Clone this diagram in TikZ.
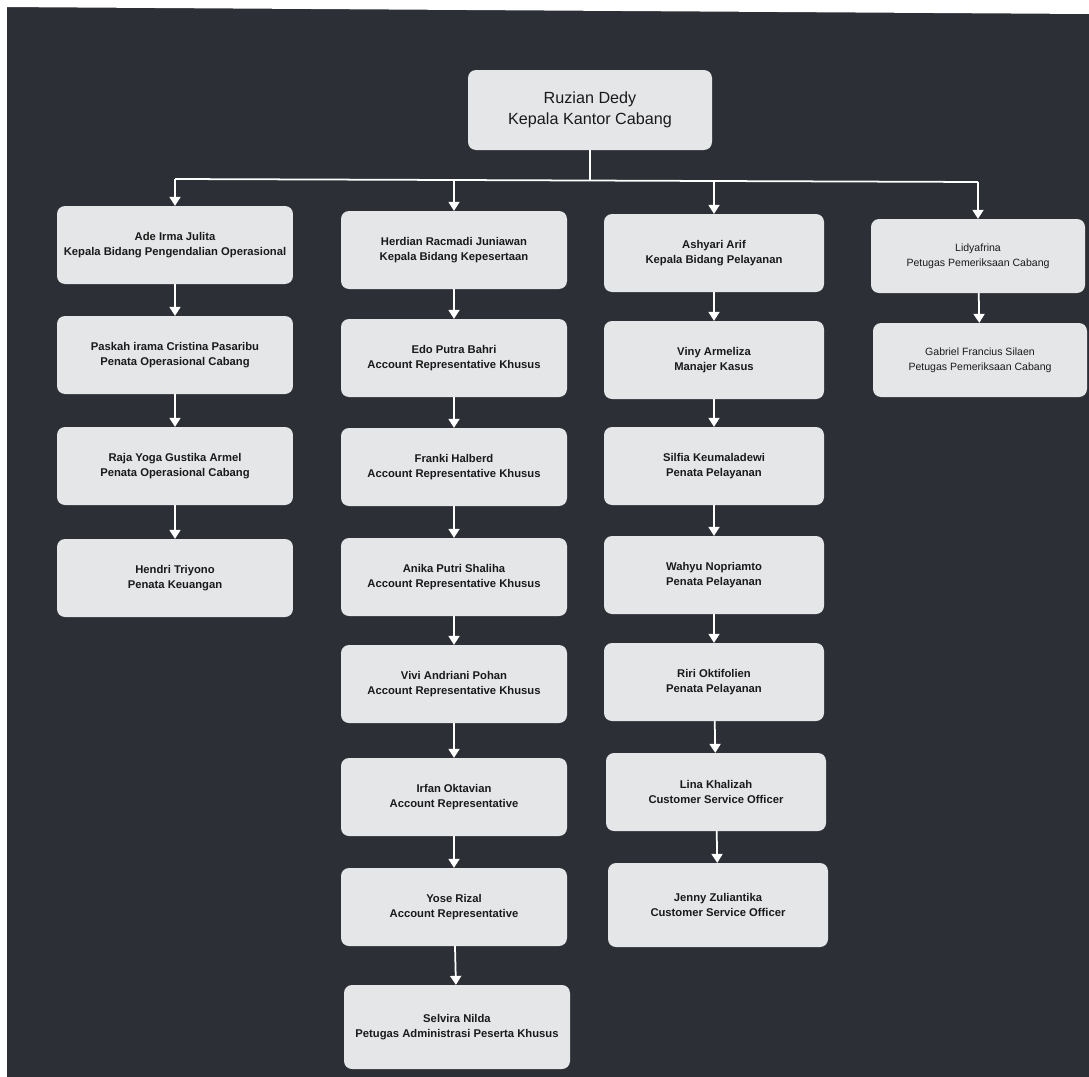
\documentclass[tikz,border=0pt]{standalone}
\usepackage{fontspec}
\setmainfont{Liberation Sans}
\usetikzlibrary{arrows.meta}
\definecolor{boardgray}{HTML}{2C3036}
\definecolor{cardgray}{HTML}{E4E6E8}
\definecolor{inkgray}{HTML}{1A1A1A}

\begin{document}
\begin{tikzpicture}[x=0.05cm,y=-0.05cm,
	card/.style={fill=cardgray, rounded corners=0.4cm, align=center, text=inkgray,
		font=\bfseries\fontsize{16}{21}\selectfont, minimum height=3.9cm,
		minimum width=#1, inner sep=0pt},
	card/.default=11cm,
	wire/.style={draw=white, line width=2.5pt},
	link/.style={wire, -{Triangle[width=0.55cm,length=0.45cm]}}]
\useasboundingbox (0,0) rectangle (1089,1077);
\fill[boardgray] (0,0) rectangle (1089,1077);
\fill[white] (0,0) -- (1089,0) -- (1089,14) -- (0,7) -- cycle;
\fill[white] (0,0) rectangle (7,1077);

\node[card=12.2cm, minimum height=4cm, font=\fontsize{23}{30}\selectfont] (ruzian) at (590,110) {Ruzian Dedy\\Kepala Kantor Cabang};

\node[card=11.8cm] (ade) at (175,245) {Ade Irma Julita\\Kepala Bidang Pengendalian Operasional};
\node[card=11.8cm] (paskah) at (175,355) {Paskah irama Cristina Pasaribu\\Penata Operasional Cabang};
\node[card=11.8cm] (raja) at (175,466) {Raja Yoga Gustika Armel\\Penata Operasional Cabang};
\node[card=11.8cm] (hendri) at (175,578) {Hendri Triyono\\Penata Keuangan};

\node[card=11.3cm] (herdian) at (454,250) {Herdian Racmadi Juniawan\\Kepala Bidang Kepesertaan};
\node[card=11.3cm] (edo) at (454,358) {Edo Putra Bahri\\Account Representative Khusus};
\node[card=11.3cm] (franki) at (454,467) {Franki Halberd\\Account Representative Khusus};
\node[card=11.3cm] (anika) at (454,577) {Anika Putri Shaliha\\Account Representative Khusus};
\node[card=11.3cm] (vivi) at (454,684) {Vivi Andriani Pohan\\Account Representative Khusus};
\node[card=11.3cm] (irfan) at (454,797) {Irfan Oktavian\\Account Representative};
\node[card=11.3cm] (yose) at (454,907) {Yose Rizal\\Account Representative};
\node[card=11.3cm, minimum height=4.2cm] (selvira) at (457,1027) {Selvira Nilda\\Petugas Administrasi Peserta Khusus};

\node[card=11cm] (ashyari) at (714,253) {Ashyari Arif\\Kepala Bidang Pelayanan};
\node[card=11cm] (viny) at (714,360) {Viny Armeliza\\Manajer Kasus};
\node[card=11cm] (silfia) at (714,466) {Silfia Keumaladewi\\Penata Pelayanan};
\node[card=11cm] (wahyu) at (714,575) {Wahyu Nopriamto\\Penata Pelayanan};
\node[card=11cm] (riri) at (714,682) {Riri Oktifolien\\Penata Pelayanan};
\node[card=11cm] (lina) at (716,792) {Lina Khalizah\\Customer Service Officer};
\node[card=11cm, minimum height=4.2cm] (jenny) at (718,905) {Jenny Zuliantika\\Customer Service Officer};

\node[card=10.7cm, minimum height=3.7cm, font=\fontsize{15}{21}\selectfont] (lidya) at (978,256) {Lidyafrina\\Petugas Pemeriksaan Cabang};
\node[card=10.7cm, minimum height=3.7cm, font=\fontsize{15}{21}\selectfont] (gabriel) at (980,360) {Gabriel Francius Silaen\\Petugas Pemeriksaan Cabang};

\coordinate (busA) at (175,179);
\coordinate (busB) at (454,180);
\coordinate (busC) at (714,181);
\coordinate (busD) at (978,182);
\draw[wire] (ruzian.south) -- (ruzian.south |- busB);
\draw[wire] (busA) -- (busB) -- (busC) -- (busD);

\draw[link] (busA) -- (ade);
\draw[link] (busB) -- (herdian);
\draw[link] (busC) -- (ashyari);
\draw[link] (busD) -- (lidya);

\draw[link] (ade) -- (paskah);
\draw[link] (paskah) -- (raja);
\draw[link] (raja) -- (hendri);

\draw[link] (herdian) -- (edo);
\draw[link] (edo) -- (franki);
\draw[link] (franki) -- (anika);
\draw[link] (anika) -- (vivi);
\draw[link] (vivi) -- (irfan);
\draw[link] (irfan) -- (yose);
\draw[link] (yose) -- (selvira);

\draw[link] (ashyari) -- (viny);
\draw[link] (viny) -- (silfia);
\draw[link] (silfia) -- (wahyu);
\draw[link] (wahyu) -- (riri);
\draw[link] (riri) -- (lina);
\draw[link] (lina) -- (jenny);

\draw[link] (lidya) -- (gabriel);
\end{tikzpicture}
\end{document}
